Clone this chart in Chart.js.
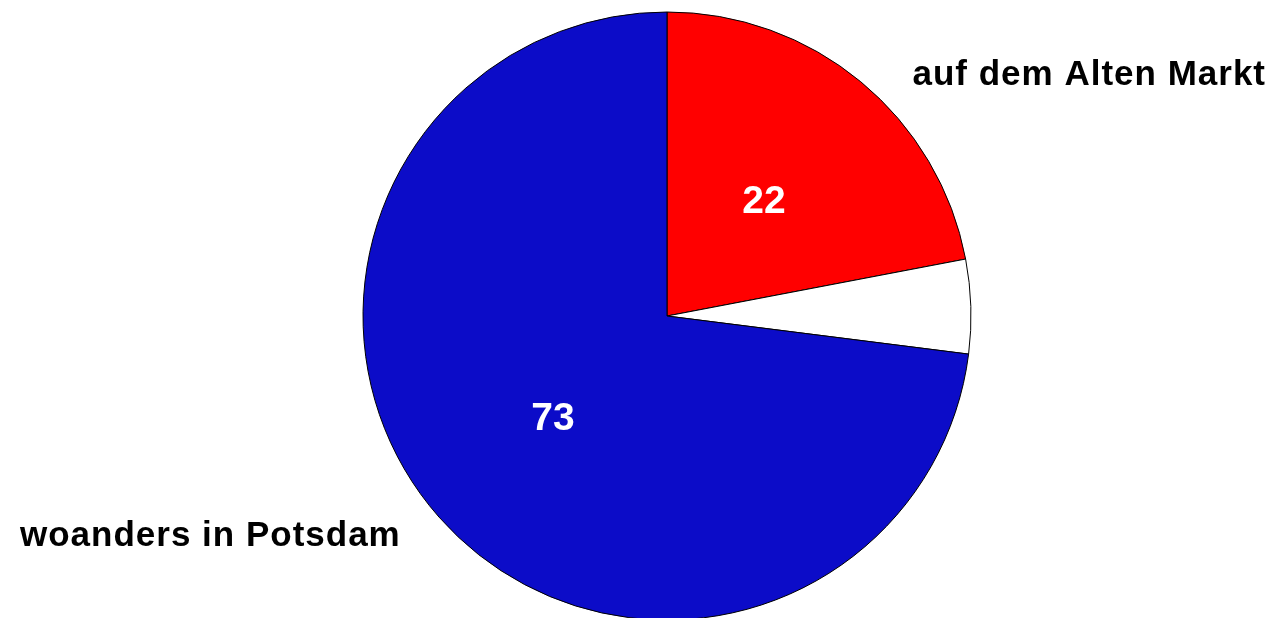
<!DOCTYPE html>
<html>
<head>
<meta charset="utf-8">
<script src="https://cdn.jsdelivr.net/npm/chart.js@4/dist/chart.umd.min.js"></script>
<style>
  html, body { margin: 0; padding: 0; background: #ffffff; }
  #wrap { width: 1273px; height: 618px; }
</style>
</head>
<body>
<div id="wrap"><canvas id="pie"></canvas></div>
<script>
// Slices, clockwise from 12 o'clock
let categories = ['auf dem Alten Markt', '', 'woanders in Potsdam']
let values = [22, 5, 73]
let sliceLabels = ['22', '', '73'] // numbers printed inside slices
let sliceColors = ['#ff0000', '#ffffff', '#0c0cc8']

let nameFont = 'bold 35px "Liberation Sans", Arial, sans-serif'
let numberFont = 'bold 39px "Liberation Sans", Arial, sans-serif'

// Draw the numbers inside the slices and the category names outside
let labelPlugin = {
    id: 'labels',
    afterDatasetsDraw(chart) {
        let cxt = chart.ctx
        let arcs = chart.getDatasetMeta(0).data
        cxt.save()
        cxt.font = numberFont
        cxt.textAlign = 'center'
        cxt.textBaseline = 'middle'
        cxt.fillStyle = '#ffffff'
        arcs.forEach(function (arc, i) {
            if (!sliceLabels[i]) return
            let mid = (arc.startAngle + arc.endAngle) / 2
            let r = arc.outerRadius * 0.5
            cxt.fillText(sliceLabels[i], arc.x + Math.cos(mid) * r, arc.y + Math.sin(mid) * r + 3)
        })
        // outside category names, a little letter-spaced
        cxt.font = nameFont
        cxt.letterSpacing = '1px'
        cxt.fillStyle = '#000000'
        cxt.textAlign = 'right'
        cxt.fillText(categories[0], 1266, 75)
        cxt.textAlign = 'left'
        cxt.fillText(categories[2], 20, 536)
        cxt.restore()
    }
}

let chart = new Chart(document.querySelector('#pie'), {
    type: 'pie',
    data: {
        labels: categories,
        datasets: [{
            data: values,
            backgroundColor: sliceColors,
            borderColor: '#000000',
            borderWidth: 1
        }]
    },
    options: {
        responsive: true,
        maintainAspectRatio: false,
        animation: false,
        radius: 304,
        layout: { padding: { left: 61, right: 0, top: 14, bottom: 0 } },
        plugins: {
            legend: { display: false },
            tooltip: { enabled: false }
        }
    },
    plugins: [labelPlugin]
})
</script>
</body>
</html>
